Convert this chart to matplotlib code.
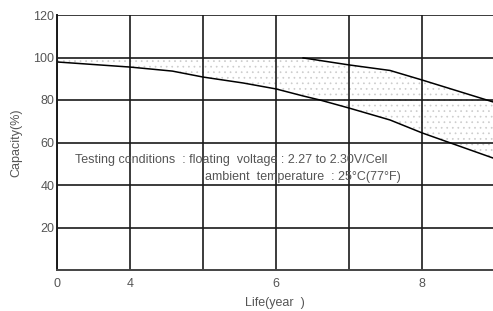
import matplotlib.pyplot as plt
from matplotlib.ticker import FixedLocator

plt.rcParams['font.family'] = ['Liberation Sans', 'DejaVu Sans']
plt.rcParams['hatch.linewidth'] = 0.5

# life in years, with the band's upper and lower capacity (%)
life_years = [3, 4, 4.58, 5, 5.55, 6, 6.37, 6.6, 7, 7.56, 8, 8.97]
capacity_low = [97.9, 95.5, 93.6, 90.8, 88.0, 85.2, 81.9, 80.0, 76.2, 70.6, 64.5, 52.7]
capacity_high = [100, 100, 100, 100, 100, 100, 99.8, 98.6, 96.5, 93.9, 89.4, 79.1]

x_ticks = [3, 4, 6, 8]
x_tick_labels = ['0', '4', '6', '8']
x_minor = [5, 7]
y_ticks = [20, 40, 60, 80, 100, 120]

fig = plt.figure(figsize=(4.93, 3.11), dpi=100)
ax = fig.add_axes([57 / 493, 1 - 270 / 311, 1 - 57 / 493, 255 / 311])

# dotted band between the two curves, kept under the grid
ax.fill_between(life_years, capacity_low, capacity_high, facecolor='none',
                edgecolor='#cccccc', hatch='...', linewidth=0, zorder=0.2)
ax.plot(life_years, capacity_low, color='black', lw=1.1)
ax.plot(life_years[6:], capacity_high[6:], color='black', lw=1.1)

ax.set_xlim(3, 8.97)
ax.set_ylim(0, 120)
ax.set_xticks(x_ticks)
ax.set_xticklabels(x_tick_labels)
ax.xaxis.set_minor_locator(FixedLocator(x_minor))
ax.set_yticks(y_ticks)
ax.tick_params(which='both', length=0, labelsize=9, colors='#555555', pad=6)
ax.tick_params(axis='y', pad=2)
ax.grid(True, which='both', color='#1a1a1a', lw=1.2)
ax.set_axisbelow(True)

for side in ['top', 'right']:
    ax.spines[side].set_visible(False)
ax.spines['left'].set_color('#1a1a1a')
ax.spines['left'].set_linewidth(1.4)
ax.spines['bottom'].set_color('#444444')
ax.spines['bottom'].set_linewidth(1.4)

ax.text(3.25, 50.4, 'Testing conditions  : floating  voltage : 2.27 to 2.30V/Cell',
        fontsize=9, color='#555555', va='baseline')
ax.text(5.03, 42.4, 'ambient  temperature  : 25\u00b0C(77\u00b0F)',
        fontsize=9, color='#555555', va='baseline')

ax.set_xlabel('Life(year  )', fontsize=9, color='#555555', labelpad=5)
ax.set_ylabel('Capacity(%)', fontsize=9, color='#555555', labelpad=8)

fig.savefig('out.png', dpi=100)
